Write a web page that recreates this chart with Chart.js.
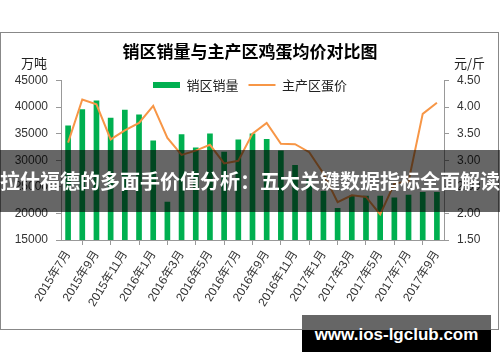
<!DOCTYPE html>
<html>
<head>
<meta charset="utf-8">
<script src="https://cdn.jsdelivr.net/npm/chart.js@4"></script>
<style>
  html, body { margin: 0; padding: 0; background: #fff; }
  #wrap { position: relative; width: 500px; height: 362px; overflow: hidden; }
  #frame { position: absolute; left: 0; top: 32px; width: 497px; height: 296px; border: 1px solid #888; background: #fff; }
  canvas { position: absolute; left: 0; top: 0; }
  .unit { position: absolute; font: 13px 'Noto Sans CJK SC', sans-serif; color: #222; }
  #banner { position: absolute; left: 0; top: 150px; width: 500px; height: 62px; background: rgba(0,0,0,0.6);
    color: #fff; font: bold 20px 'Noto Sans CJK SC', sans-serif; line-height: 62px; text-align: center; white-space: nowrap; }
  #site { position: absolute; left: 302px; top: 315px; width: 189px; height: 37px; background: #000;
    color: #fff; font: bold 17px 'Liberation Sans', sans-serif; line-height: 40px; text-align: center; }
  #site .top { position: absolute; left: 0; top: 0; width: 100%; height: 15px; background: #666; }
  #site span { position: relative; }
</style>
</head>
<body>
<div id="wrap">
  <div id="frame"></div>
  <canvas id="c" width="500" height="362"></canvas>
  <div class="unit" style="left:21px; top:53px;">万吨</div>
  <div class="unit" style="left:454px; top:53px;">元/斤</div>
  <div id="banner">拉什福德的多面手价值分析：五大关键数据指标全面解读</div>
  <div id="site"><div class="top"></div><span>www.ios-lgclub.com</span></div>
</div>
<script>
const months = ['2015年7月', '2015年8月', '2015年9月', '2015年10月', '2015年11月', '2015年12月',
  '2016年1月', '2016年2月', '2016年3月', '2016年4月', '2016年5月', '2016年6月',
  '2016年7月', '2016年8月', '2016年9月', '2016年10月', '2016年11月', '2016年12月',
  '2017年1月', '2017年2月', '2017年3月', '2017年4月', '2017年5月', '2017年6月',
  '2017年7月', '2017年8月', '2017年9月'];
const salesVolume = [36500, 39600, 41200, 38000, 39500, 38600, 33700, 22200, 34900, 32400,
  35000, 31600, 33900, 35000, 34000, 31800, 29100, 26400, 24200, 21000,
  23300, 23300, 23300, 23000, 23500, 24000, 24000];
const eggPrice = [3.33, 4.14, 4.05, 3.39, 3.56, 3.70, 4.02, 3.42, 3.10, 3.18,
  3.29, 2.94, 2.99, 3.50, 3.70, 3.31, 3.30, 3.15, 2.75, 2.21,
  2.34, 2.31, 1.98, 2.56, 2.60, 3.87, 4.08];

const tickFont = { family: "'Liberation Sans', 'Noto Sans CJK SC', sans-serif", size: 12 };
const axisColor = '#999';

// title and legend sit where the original has them (legend overlaps plot top)
const placeHeader = {
  id: 'placeHeader',
  afterLayout(chart) {
    const t = chart.titleBlock;
    let dy = 52 - (t.top + t.height / 2);
    t.top += dy; t.bottom += dy;
    const l = chart.legend;
    dy = 85 - (l.top + l.height / 2);
    l.top += dy; l.bottom += dy;
  }
};

new Chart(document.getElementById('c').getContext('2d'), {
  data: {
    labels: months,
    datasets: [{
      type: 'bar',
      label: '销区销量',
      data: salesVolume,
      backgroundColor: '#00B050',
      yAxisID: 'y',
      categoryPercentage: 1,
      barPercentage: 0.4,
      order: 2
    }, {
      type: 'line',
      label: '主产区蛋价',
      data: eggPrice,
      borderColor: '#F79646',
      backgroundColor: '#F79646',
      borderWidth: 2,
      pointRadius: 0,
      tension: 0,
      yAxisID: 'y1',
      order: 1
    }]
  },
  plugins: [placeHeader],
  options: {
    responsive: false,
    animation: false,
    layout: { padding: { top: 27, left: 0, right: 0, bottom: 52 } },
    plugins: {
      title: {
        display: true,
        text: '销区销量与主产区鸡蛋均价对比图',
        font: { family: "'Noto Sans CJK SC', sans-serif", size: 17, weight: 'bold' },
        color: '#000',
        padding: 0
      },
      legend: {
        position: 'top',
        align: 'center',
        labels: {
          usePointStyle: true,
          pointStyleWidth: 27,
          boxHeight: 6,
          padding: 10,
          color: '#222',
          font: { family: "'Noto Sans CJK SC', sans-serif", size: 13 },
          generateLabels: function (chart) {
            return chart.data.datasets.map(function (ds, i) {
              return {
                text: ds.label,
                datasetIndex: i,
                pointStyle: 'line',
                strokeStyle: ds.type === 'bar' ? ds.backgroundColor : ds.borderColor,
                fillStyle: ds.backgroundColor,
                lineWidth: ds.type === 'bar' ? 6 : 2,
                fontColor: '#222'
              };
            });
          }
        }
      },
      tooltip: { enabled: false }
    },
    scales: {
      x: {
        grid: { drawOnChartArea: false, drawTicks: true, tickLength: 5, tickColor: axisColor, offset: true },
        border: { display: true, color: axisColor },
        ticks: {
          autoSkip: false,
          minRotation: 58,
          maxRotation: 58,
          color: '#333',
          font: tickFont,
          callback: function (val, idx) {
            return idx % 2 === 0 ? this.getLabelForValue(val) : null;
          }
        },
        afterFit: function (scale) { scale.height = 70; }
      },
      y: {
        position: 'left',
        min: 15000,
        max: 45000,
        grid: { drawOnChartArea: false, tickLength: 5, tickColor: axisColor },
        border: { display: true, color: axisColor },
        ticks: {
          stepSize: 5000, color: '#333', font: tickFont, padding: 8,
          callback: function (v) { return String(v); }
        },
        afterFit: function (scale) { scale.width = 61; }
      },
      y1: {
        position: 'right',
        min: 1.5,
        max: 4.5,
        grid: { drawOnChartArea: false, tickLength: 5, tickColor: axisColor },
        border: { display: true, color: axisColor },
        ticks: {
          stepSize: 0.5,
          color: '#333',
          font: tickFont,
          padding: 8,
          callback: function (v) { return v.toFixed(2); }
        },
        afterFit: function (scale) { scale.width = 56; }
      }
    }
  }
});
</script>
</body>
</html>
